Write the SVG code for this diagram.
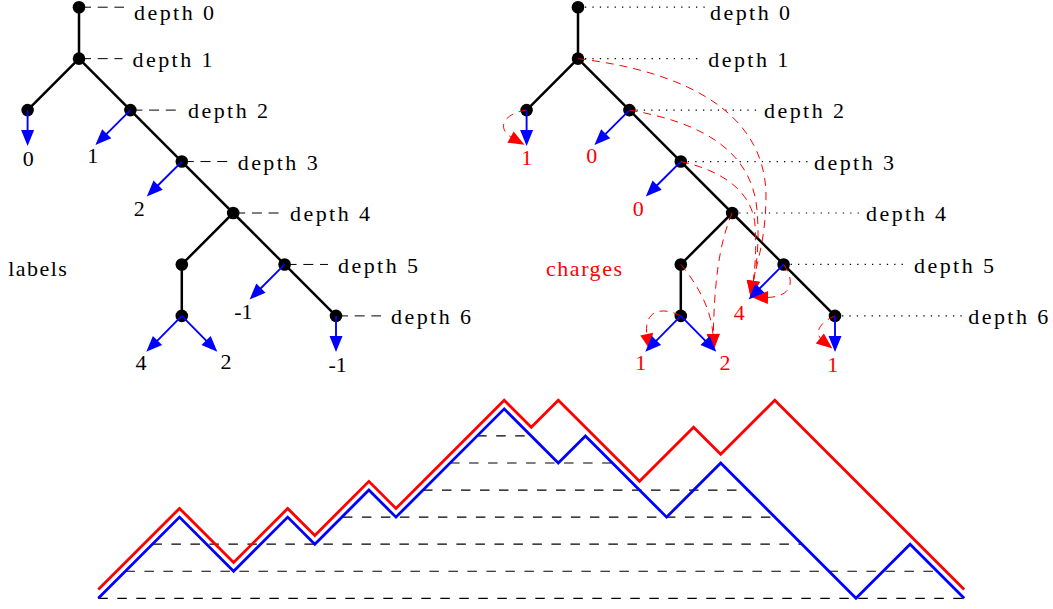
<svg xmlns="http://www.w3.org/2000/svg" width="1053" height="609" viewBox="0 0 1053 609">
<defs>
<marker id="ab" markerUnits="userSpaceOnUse" markerWidth="16" markerHeight="13" refX="4" refY="6.5" orient="auto" overflow="visible"><path d="M0,0 L16,6.5 L0,13 z" fill="#0000ff"/></marker>
<marker id="ar" markerUnits="userSpaceOnUse" markerWidth="16" markerHeight="13" refX="4" refY="6.5" orient="auto" overflow="visible"><path d="M0,0 L16,6.5 L0,13 z" fill="#ff0000"/></marker>
</defs>
<style>
.t{font-family:"Liberation Serif","Times New Roman",serif;font-size:22px;fill:#000}
.n{text-anchor:middle}
.r{fill:#ff0000}
.edge{stroke:#000;stroke-width:2.5;fill:none;stroke-linecap:round}
.node{fill:#000}
.ba{stroke:#0000ff;stroke-width:1.9;fill:none;marker-end:url(#ab)}
.rc{stroke:#ff0000;stroke-width:1;fill:none;stroke-dasharray:8 6;marker-end:url(#ar)}
.dl{stroke:#000;stroke-width:1;stroke-dasharray:10 6.7}
.dt{stroke:#000;stroke-width:1.2;stroke-dasharray:1.3 6.1}
.hl{stroke:#000;stroke-width:1.2;stroke-dasharray:9.5 9.5}
.pb{stroke:#0000ff;stroke-width:2.8;fill:none}
.pr{stroke:#ff0000;stroke-width:2.8;fill:none}
</style>
<rect width="1053" height="609" fill="#fff"/>

<!-- LEFT TREE -->
<g id="left-connectors">
<path class="edge" d="M79,7.2 L79,58.65 M79,58.65 L27.6,110.1 M79,58.65 L130.4,110.1 L181.8,161.55 L233.2,213 L181.8,264.45 L181.8,315.9 M233.2,213 L284.6,264.45 L336,315.9"/>
<line class="dl" x1="81" y1="7.2" x2="124" y2="7.2"/>
<line class="dl" x1="81" y1="58.65" x2="122.5" y2="58.65"/>
<line class="dl" x1="132.4" y1="110.1" x2="178" y2="110.1"/>
<line class="dl" x1="183.8" y1="161.55" x2="227.7" y2="161.55"/>
<line class="dl" x1="235.2" y1="213" x2="280" y2="213"/>
<line class="dl" x1="286.6" y1="264.45" x2="328" y2="264.45"/>
<line class="dl" x1="338" y1="315.9" x2="381" y2="315.9"/>
</g>
<g id="L0"><circle class="node" cx="79" cy="7.2" r="6.3"/><text class="t" x="134" y="19.5" textLength="80" lengthAdjust="spacing">depth 0</text></g>
<g id="L1"><circle class="node" cx="79" cy="58.65" r="6.3"/><text class="t" x="132.5" y="66.8" textLength="80" lengthAdjust="spacing">depth 1</text></g>
<g id="L2a"><circle class="node" cx="27.6" cy="110.1" r="6.3"/></g>
<g id="L2b"><circle class="node" cx="130.4" cy="110.1" r="6.3"/><text class="t" x="188" y="118.2" textLength="80" lengthAdjust="spacing">depth 2</text></g>
<g id="L3"><circle class="node" cx="181.8" cy="161.55" r="6.3"/><text class="t" x="237.7" y="169.6" textLength="80" lengthAdjust="spacing">depth 3</text></g>
<g id="L4"><circle class="node" cx="233.2" cy="213" r="6.3"/><text class="t" x="290" y="221" textLength="80" lengthAdjust="spacing">depth 4</text></g>
<g id="L5a"><circle class="node" cx="181.8" cy="264.45" r="6.3"/></g>
<g id="L5b"><circle class="node" cx="284.6" cy="264.45" r="6.3"/><text class="t" x="338" y="272.5" textLength="80" lengthAdjust="spacing">depth 5</text></g>
<g id="L6a"><circle class="node" cx="181.8" cy="315.9" r="6.3"/></g>
<g id="L6b"><circle class="node" cx="336" cy="315.9" r="6.3"/><text class="t" x="391" y="324" textLength="80" lengthAdjust="spacing">depth 6</text></g>
<g id="left-arrows">
<line class="ba" x1="27.6" y1="110.1" x2="27.6" y2="134.1"/>
<line class="ba" x1="130.4" y1="110.1" x2="103.9" y2="136.6"/>
<line class="ba" x1="181.8" y1="161.55" x2="155.3" y2="188"/>
<line class="ba" x1="284.6" y1="264.45" x2="258.1" y2="291"/>
<line class="ba" x1="336" y1="315.9" x2="336" y2="339.9"/>
<line class="ba" x1="181.8" y1="315.9" x2="154.7" y2="343.3"/>
<line class="ba" x1="181.8" y1="315.9" x2="208.9" y2="343.3"/>
</g>
<g id="left-labels">
<text class="t n" x="28.3" y="165.7">0</text>
<text class="t n" x="92.7" y="163">1</text>
<text class="t n" x="139.3" y="216">2</text>
<text class="t n" x="243.3" y="319.3">-1</text>
<text class="t n" x="141" y="370">4</text>
<text class="t n" x="226" y="369.3">2</text>
<text class="t n" x="337.7" y="371.7">-1</text>
<text class="t" x="8.3" y="276" textLength="58.5" lengthAdjust="spacing">labels</text>
</g>

<!-- RIGHT TREE -->
<g id="right-connectors">
<path class="edge" d="M578,7.2 L578,58.65 M578,58.65 L526.6,110.1 M578,58.65 L629.4,110.1 L680.8,161.55 L732.2,213 L680.8,264.45 L680.8,315.9 M732.2,213 L783.6,264.45 L835,315.9"/>
<line class="dt" x1="585" y1="7.2" x2="705" y2="7.2"/>
<line class="dt" x1="585" y1="58.65" x2="703" y2="58.65"/>
<line class="dt" x1="636.4" y1="110.1" x2="759" y2="110.1"/>
<line class="dt" x1="687.8" y1="161.55" x2="809" y2="161.55"/>
<line class="dt" x1="739.2" y1="213" x2="861" y2="213"/>
<line class="dt" x1="790.6" y1="264.45" x2="909" y2="264.45"/>
<line class="dt" x1="842" y1="315.9" x2="963" y2="315.9"/>
</g>
<g id="R0"><circle class="node" cx="578" cy="7.2" r="6.3"/><text class="t" x="710" y="19.5" textLength="80" lengthAdjust="spacing">depth 0</text></g>
<g id="R1"><circle class="node" cx="578" cy="58.65" r="6.3"/><text class="t" x="708.3" y="66.8" textLength="80" lengthAdjust="spacing">depth 1</text></g>
<g id="R2a"><circle class="node" cx="526.6" cy="110.1" r="6.3"/></g>
<g id="R2b"><circle class="node" cx="629.4" cy="110.1" r="6.3"/><text class="t" x="764" y="118.2" textLength="80" lengthAdjust="spacing">depth 2</text></g>
<g id="R3"><circle class="node" cx="680.8" cy="161.55" r="6.3"/><text class="t" x="814" y="169.6" textLength="80" lengthAdjust="spacing">depth 3</text></g>
<g id="R4"><circle class="node" cx="732.2" cy="213" r="6.3"/><text class="t" x="866" y="221" textLength="80" lengthAdjust="spacing">depth 4</text></g>
<g id="R5a"><circle class="node" cx="680.8" cy="264.45" r="6.3"/></g>
<g id="R5b"><circle class="node" cx="783.6" cy="264.45" r="6.3"/><text class="t" x="914" y="272.5" textLength="80" lengthAdjust="spacing">depth 5</text></g>
<g id="R6a"><circle class="node" cx="680.8" cy="315.9" r="6.3"/></g>
<g id="R6b"><circle class="node" cx="835" cy="315.9" r="6.3"/><text class="t" x="968.3" y="324" textLength="80" lengthAdjust="spacing">depth 6</text></g>
<g id="charge-curves">
<path class="rc" d="M578,58.65 C690,72 765,115 766,195 C766,240 756,265 752.5,285"/>
<path class="rc" d="M629.4,110.1 C700,122 752,150 757,210 C760,245 756,268 752.8,285"/>
<path class="rc" d="M680.8,161.55 C720,170 752,190 755,225 C757,255 754,272 753,285"/>
<path class="rc" d="M783.6,264.45 C796,282 792,298 764,297.5"/>
<path class="rc" d="M732.2,213 C718,245 714,290 713.3,338"/>
<path class="rc" d="M680.8,264.45 C698,285 712,310 713.3,338"/>
<path class="rc" d="M680.8,315.9 C660,305 642,312 647.5,338"/>
<path class="rc" d="M526.6,110.1 C505,113 494,128 514,139"/>
<path class="rc" d="M835,315.9 C820,322 813,333 823,341"/>
</g>
<g id="right-arrows">
<line class="ba" x1="526.6" y1="110.1" x2="526.6" y2="134.1"/>
<line class="ba" x1="629.4" y1="110.1" x2="602.9" y2="136.6"/>
<line class="ba" x1="680.8" y1="161.55" x2="654.3" y2="188"/>
<line class="ba" x1="783.6" y1="264.45" x2="757.1" y2="291"/>
<line class="ba" x1="835" y1="315.9" x2="835" y2="339.9"/>
<line class="ba" x1="680.8" y1="315.9" x2="653.7" y2="343.3"/>
<line class="ba" x1="680.8" y1="315.9" x2="707.9" y2="343.3"/>
</g>
<g id="right-labels">
<text class="t n r" x="526.7" y="165">1</text>
<text class="t n r" x="591.7" y="163.3">0</text>
<text class="t n r" x="638.3" y="216">0</text>
<text class="t n r" x="739.3" y="320">4</text>
<text class="t n r" x="640.7" y="370">1</text>
<text class="t n r" x="725" y="370">2</text>
<text class="t n r" x="832.7" y="371.7">1</text>
<text class="t r" x="546" y="276" textLength="76" lengthAdjust="spacing">charges</text>
</g>

<!-- PATHS -->
<g id="levels">
<line class="hl" x1="98.3" y1="598.3" x2="964.2" y2="598.3"/>
<line class="hl" x1="125.4" y1="571.24" x2="937.1" y2="571.24"/>
<line class="hl" x1="152.4" y1="544.18" x2="802" y2="544.18"/>
<line class="hl" x1="342.9" y1="517.12" x2="774.8" y2="517.12"/>
<line class="hl" x1="423" y1="490.06" x2="747.8" y2="490.06"/>
<line class="hl" x1="450.1" y1="463" x2="612.4" y2="463"/>
<line class="hl" x1="477.2" y1="435.94" x2="531.3" y2="435.94"/>
</g>
<g id="blue-path">
<polyline class="pb" points="98.3,598.3 179.5,517.12 233.6,571.24 287.7,517.12 314.8,544.18 368.9,490.06 395.96,517.12 504.2,408.88 558.3,463 585.4,435.94 666.6,517.12 720.7,463 856,598.3 910.1,544.18 964.2,598.3"/>
</g>
<g id="red-path">
<polyline class="pr" points="98.3,589.6 179.5,508.42 233.6,562.54 287.7,508.42 314.8,535.48 368.9,481.36 395.96,508.42 504.2,400.18 531.26,427.24 558.3,400.18 639.5,481.36 693.6,427.24 720.7,454.3 774.8,400.18 964.2,589.6"/>
</g>
</svg>
